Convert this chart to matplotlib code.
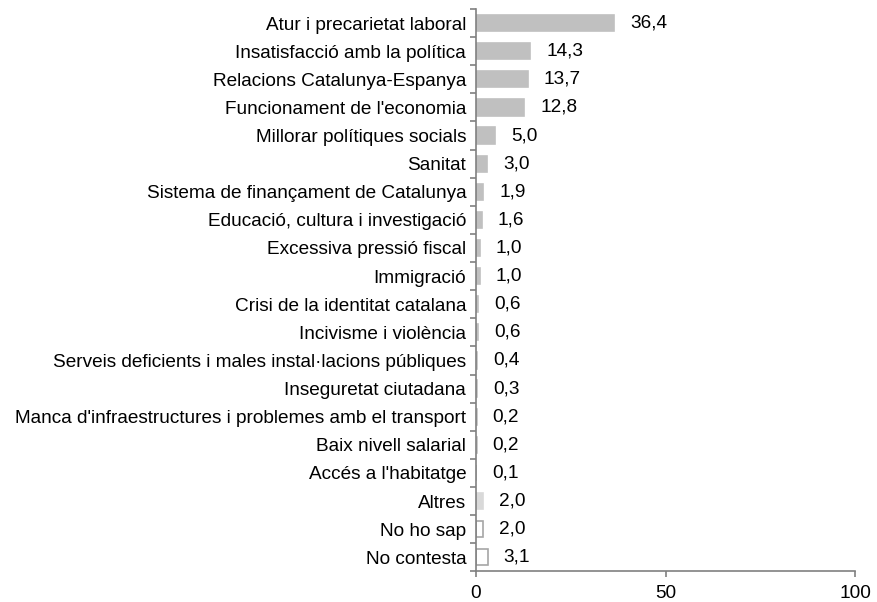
import matplotlib.pyplot as plt
import numpy as np

plt.rcParams['font.family'] = ['Liberation Sans', 'DejaVu Sans']

categories = [
    "Atur i precarietat laboral",
    "Insatisfacció amb la política",
    "Relacions Catalunya-Espanya",
    "Funcionament de l'economia",
    "Millorar polítiques socials",
    "Sanitat",
    "Sistema de finançament de Catalunya",
    "Educació, cultura i investigació",
    "Excessiva pressió fiscal",
    "Immigració",
    "Crisi de la identitat catalana",
    "Incivisme i violència",
    "Serveis deficients i males instal·lacions públiques",
    "Inseguretat ciutadana",
    "Manca d'infraestructures i problemes amb el transport",
    "Baix nivell salarial",
    "Accés a l'habitatge",
    "Altres",
    "No ho sap",
    "No contesta",
]
values = [36.4, 14.3, 13.7, 12.8, 5.0, 3.0, 1.9, 1.6, 1.0, 1.0,
          0.6, 0.6, 0.4, 0.3, 0.2, 0.2, 0.1, 2.0, 2.0, 3.1]
xticks = [0, 50, 100]

n = len(categories)
face = ['#c0c0c0'] * 17 + ['#d9d9d9', 'white', 'white']
edge = ['#c0c0c0'] * 17 + ['#d9d9d9', '#a6a6a6', '#a6a6a6']
fs = 13.65

fig = plt.figure(figsize=(8.78, 6.02), dpi=100)
ax = fig.add_axes([0.542, 0.051, 0.432, 0.934])

y = np.arange(n)
ax.barh(y, values, height=0.58, color=face, edgecolor=edge, linewidth=1.2)
for yi, v in zip(y, values):
    ax.text(v + 4.2, yi, f"{v:.1f}".replace('.', ','), va='center', ha='left', fontsize=fs)

ax.set_ylim(n - 0.5, -0.5)
ax.set_xlim(0, 100)
ax.set_yticks(y)
ax.set_yticklabels(categories, fontsize=fs)
ax.set_yticks(np.arange(n + 1) - 0.5, minor=True)
ax.tick_params(axis='y', which='major', length=0, pad=7)
ax.tick_params(axis='y', which='minor', length=4, color='#808080', width=1.2)
ax.set_xticks(xticks)
ax.set_xticklabels([str(t) for t in xticks], fontsize=fs)
ax.tick_params(axis='x', length=4, color='#808080', width=1.2, pad=6)
for s in ['top', 'right']:
    ax.spines[s].set_visible(False)
for s in ['left', 'bottom']:
    ax.spines[s].set_color('#808080')
    ax.spines[s].set_linewidth(1.2)

fig.savefig('out.png', dpi=100)
